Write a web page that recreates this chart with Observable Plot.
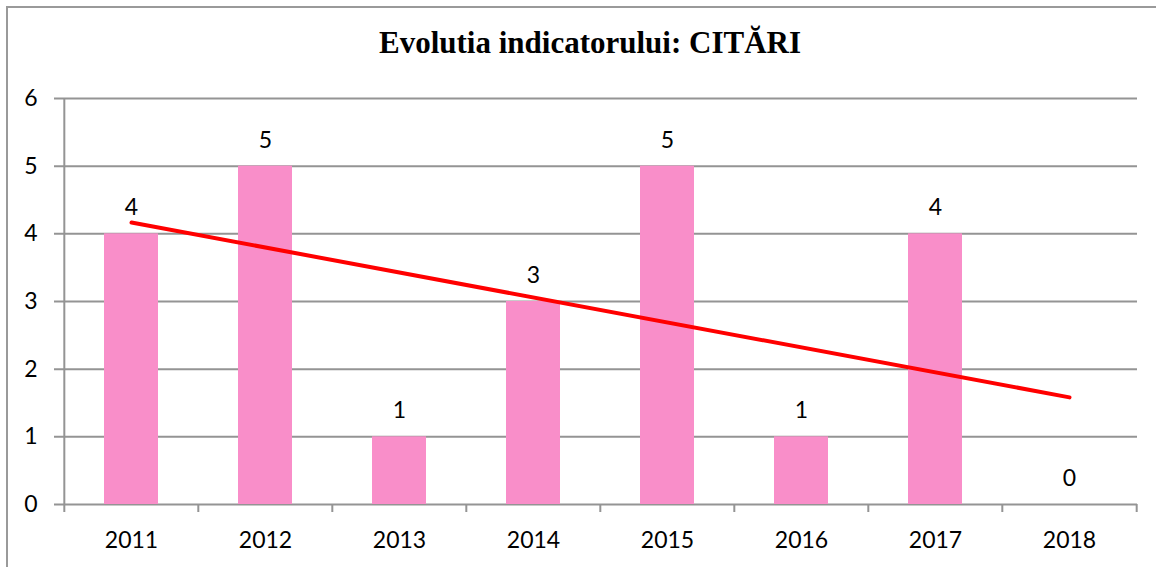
<!DOCTYPE html>
<html>
<head>
<meta charset="utf-8">
<script src="https://cdn.jsdelivr.net/npm/d3@7"></script>
<script src="https://cdn.jsdelivr.net/npm/@observablehq/plot@0.6"></script>
<style>
  html, body { margin: 0; padding: 0; background: #fff; }
  #wrap { position: relative; width: 1156px; height: 567px; overflow: hidden; }
  #border { position: absolute; left: 6px; top: 6px; width: 1300px; height: 700px;
            border-top: 2px solid #9a9a9a; border-left: 2px solid #9a9a9a; pointer-events: none; }
  #chart { position: absolute; left: 0; top: 0; }
</style>
</head>
<body>
<div id="wrap">
  <div id="chart"></div>
  <div id="border"></div>
</div>
<script>
const titleText = "Evolutia indicatorului: CITĂRI";
const years = ["2011", "2012", "2013", "2014", "2015", "2016", "2017", "2018"];
const values = [4, 5, 1, 3, 5, 1, 4, 0];
const yTicks = [0, 1, 2, 3, 4, 5, 6];

const data = years.map((year, i) => ({year, value: values[i]}));

// Linear trendline (least squares over category index), as Excel does
const n = values.length;
const xs = values.map((_, i) => i + 1);
const mx = d3.mean(xs), my = d3.mean(values);
const slope = d3.sum(xs, (x, i) => (x - mx) * (values[i] - my)) / d3.sum(xs, x => (x - mx) ** 2);
const intercept = my - slope * mx;
const trend = [
  {year: years[0], value: intercept + slope * xs[0]},
  {year: years[n - 1], value: intercept + slope * xs[n - 1]}
];

const W = 1156, H = 567;
const mL = 62, mR = 19, mT = 98, mB = 63;
const step = (W - mL - mR) / years.length;
const frameH = H - mT - mB;
const font = "Lato, 'Open Sans', sans-serif";
const gridColor = "#949494";

const plot = Plot.plot({
  width: W,
  height: H,
  marginLeft: mL,
  marginRight: mR,
  marginTop: mT,
  marginBottom: mB,
  style: {fontFamily: font, fontSize: "23px", color: "#000", background: "transparent"},
  x: {domain: years, paddingInner: 0.6, paddingOuter: 0.3, label: null},
  y: {domain: [0, 6], label: null},
  marks: [
    Plot.ruleY(yTicks, {stroke: gridColor, strokeWidth: 2, insetLeft: -8}),
    Plot.ruleX([years[0]], {x: d => d, dx: -step / 2, stroke: gridColor, strokeWidth: 2}),
    Plot.ruleX(years, {x: d => d, dx: -step / 2, stroke: gridColor, strokeWidth: 2, insetTop: frameH, insetBottom: -8}),
    Plot.ruleX([years[n - 1]], {x: d => d, dx: step / 2, stroke: gridColor, strokeWidth: 2, insetTop: frameH, insetBottom: -8}),
    Plot.barY(data, {x: "year", y: "value", fill: "#f98ec9"}),
    Plot.line(trend, {x: "year", y: "value", stroke: "#ff0000", strokeWidth: 4, strokeLinecap: "round"}),
    Plot.text(data, {x: "year", y: "value", text: d => String(d.value), dy: -26, fill: "#000", fontSize: 23}),
    Plot.axisY(yTicks, {tickSize: 0, tickPadding: 25, fontSize: 23, label: null, tickFormat: d3.format("d")}),
    Plot.axisX({tickSize: 0, tickPadding: 27, fontSize: 23, label: null}),
    Plot.text([titleText], {frameAnchor: "top", lineAnchor: "bottom", dy: -46, dx: -10,
      fontFamily: "'Liberation Serif', 'Times New Roman', serif", fontWeight: "bold", fontSize: 31, fill: "#000"})
  ]
});
document.getElementById("chart").appendChild(plot);
</script>
</body>
</html>
